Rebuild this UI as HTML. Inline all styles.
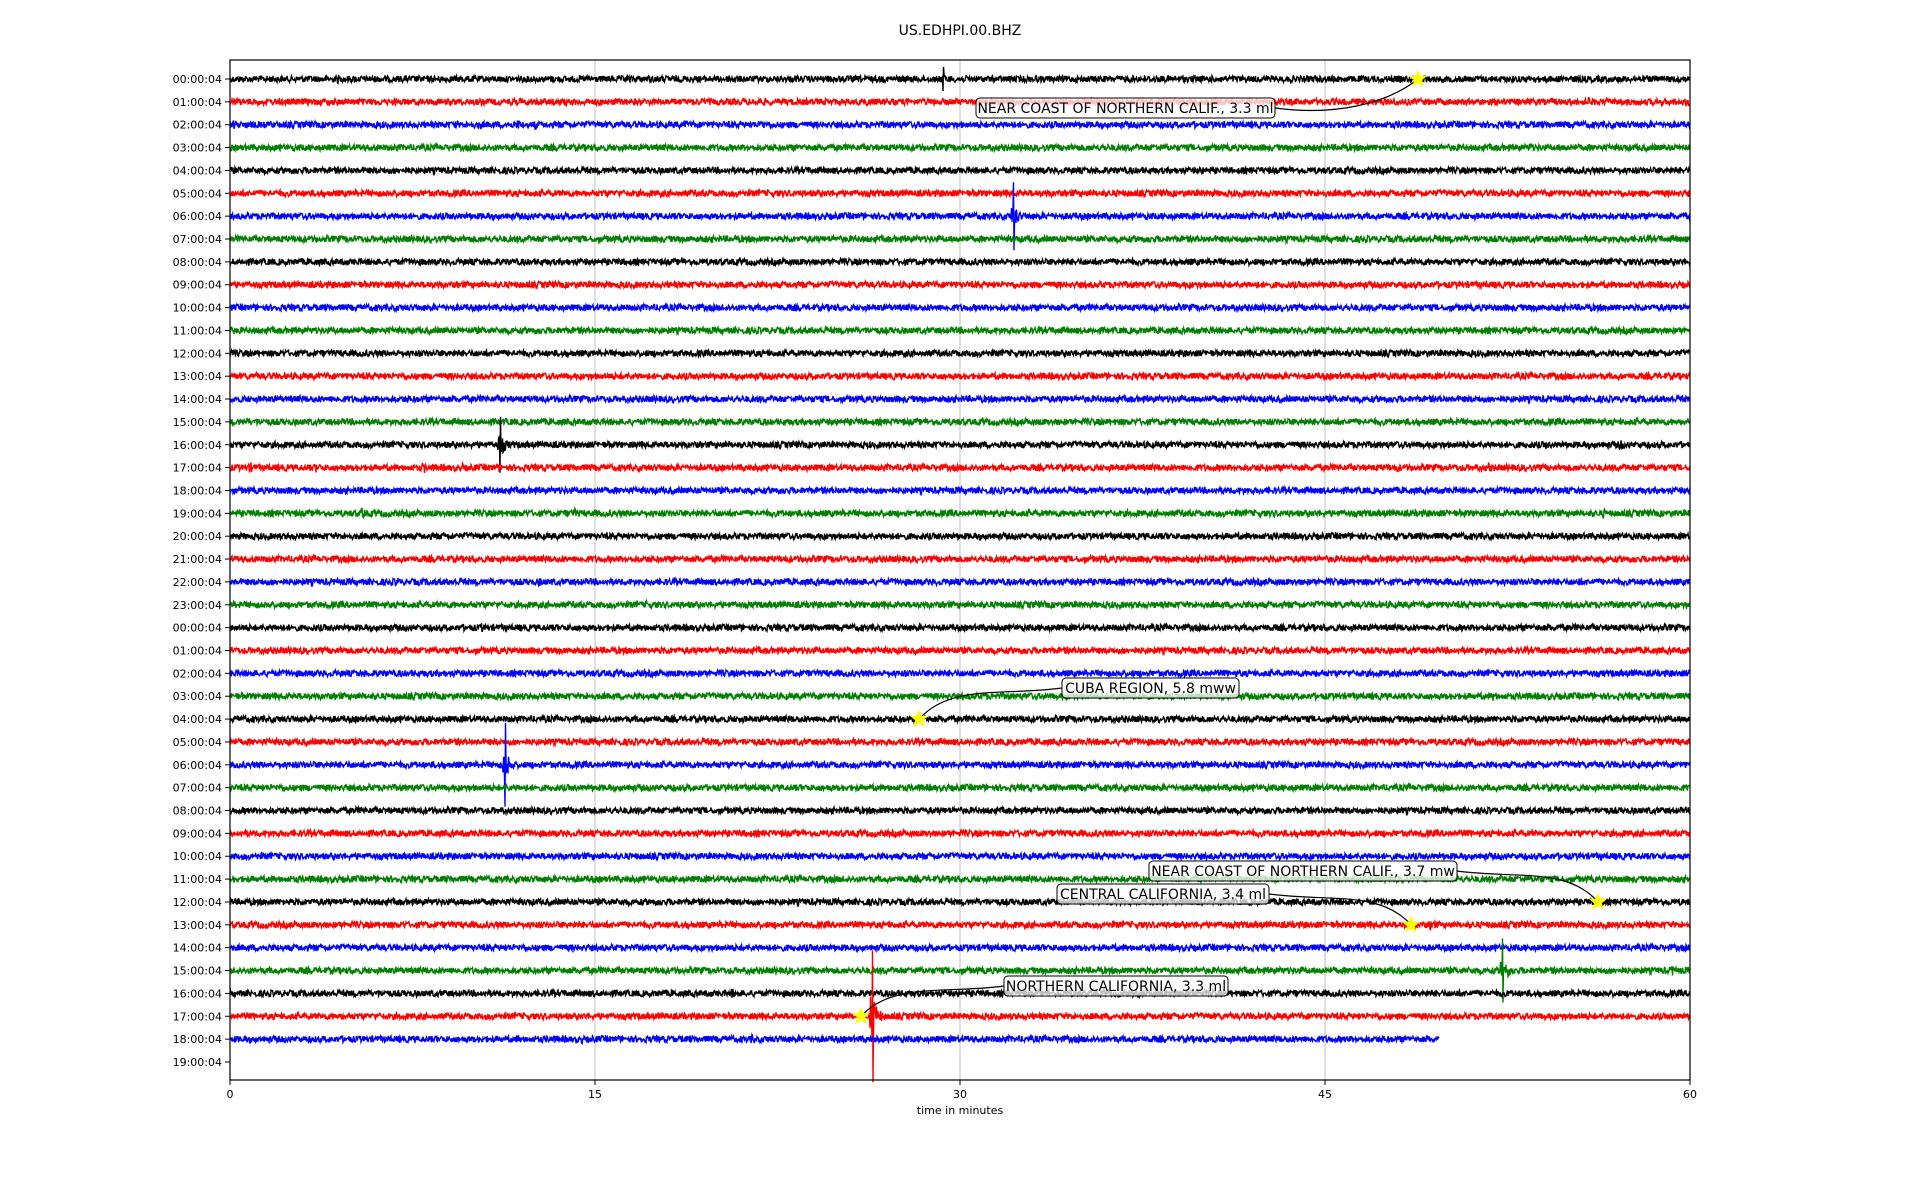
<!DOCTYPE html>
<html><head><meta charset="utf-8"><style>
body{margin:0;background:#fff}
svg{display:block;font-family:"DejaVu Sans","Liberation Sans",sans-serif}
</style></head><body>
<svg id="s" width="1920" height="1200" xmlns="http://www.w3.org/2000/svg">
<rect width="1920" height="1200" fill="#fff"/>
<g id="grid"></g>
<g id="tr"></g>
<g id="ax"></g>
<g id="ann"></g>
</svg>
<script>
const NS="http://www.w3.org/2000/svg";
const L=230,R=1690,T=60,B=1080,Y0=79,DY=22.86;
const X=m=>L+(R-L)*m/60;
let seed=12345;function rnd(){seed=(seed*1103515245+12345)&0x7fffffff;return seed/0x7fffffff;}
function el(t,a,p,txt){const e=document.createElementNS(NS,t);for(const k in a)e.setAttribute(k,a[k]);if(txt!=null)e.textContent=txt;(p||document.getElementById('s')).appendChild(e);return e;}
const g=document.getElementById('grid'),tr=document.getElementById('tr'),ax=document.getElementById('ax'),an=document.getElementById('ann');
[15,30,45].forEach(m=>el('line',{x1:X(m),x2:X(m),y1:T,y2:B,stroke:'#b0b0b0','stroke-width':0.8},g));
const cols=['#000','#f00','#00f','#008000'];
const ev={0:[[29.3,12,0.6],[4.5,5,0.2],[20.7,5,0.2]],1:[[59.9,7,0.3],[55.9,6,0.2],[21.8,5,0.3],[26.2,5,0.1]],
2:[[0.2,7,0.3],[9.3,6,0.4],[10.3,7,0.4],[11.9,7,0.3],[12.6,7,0.2],[18.8,5,0.3],[21.9,8,0.4]],
3:[[23.6,5,0.2],[53.5,7,0.2]],6:[[32.2,34,0.6]],16:[[11.1,28,0.8],[12.8,5,0.3],[57.2,7,0.3],[54.1,5,0.2],[50.7,6,0.1]],
17:[[0.8,7,1.5],[3.6,7,0.8],[8.0,8,0.2],[9.6,5,0.4],[48,6,0.3],[51.8,5,0.1]],19:[[5.5,9,0.5],[14.2,6,0.3],[56.5,6,0.3],[50.8,5,0.1]],
22:[[6.9,6,0.6],[12.8,5,0.2],[55.5,5,0.3]],23:[[17.2,5,0.3]],24:[[10.4,6,0.2]],27:[[52,6,0.5]],28:[[4,6,0.6]],
30:[[11.3,42,0.7]],37:[[49.4,8,0.8]],39:[[52.3,32,0.8],[59.3,8,0.4]],40:[[20.7,5,0.3]],41:[[26.4,66,0.6]],42:[[11.9,5,0.3],[14.5,5,0.2],[21.5,5,0.6]]};
for(let r=0;r<43;r++){
  const y=Y0+r*DY;const end=r==42?49.7:60;const es=ev[r]||[];
  let d='';const xe=X(end);let k=0;
  for(let x=L;x<=xe;x+=0.5){
    k++;
    const m=(x-L)/(R-L)*60;let a=3.2;let forced=0;
    for(const e of es){const dm=m-e[0];if(dm>-0.1&&dm<e[2]){
      if(e[1]>10&&dm>-0.01&&dm<0.03){forced=e[1]*(k%2?1:-1);}
      const coda=Math.min(e[1]*0.3+3,e[1])*Math.exp(-Math.max(0,dm)/(e[2]*0.4));
      a=Math.max(a,coda);}}
    const v=forced||(rnd()*2-1)*a;d+=(d?'L':'M')+x.toFixed(1)+' '+(y+v).toFixed(1);
  }
  el('path',{d:d,fill:'none',stroke:cols[r%4],'stroke-width':1.4},tr);
}
el('rect',{x:L,y:T,width:R-L,height:B-T,fill:'none',stroke:'#000','stroke-width':1.2},ax);
for(let r=0;r<44;r++){const y=Y0+r*DY;const h=(r%24).toString().padStart(2,'0');
  el('line',{x1:L-5,x2:L,y1:y,y2:y,stroke:'#000'},ax);
  el('text',{x:L-8,y:y+4,'text-anchor':'end','font-size':11,fill:'#000'},ax,h+':00:04');}
[0,15,30,45,60].forEach(m=>{el('line',{x1:X(m),x2:X(m),y1:B,y2:B+5,stroke:'#000'},ax);
  el('text',{x:X(m),y:B+18,'text-anchor':'middle','font-size':11},ax,m);});
el('text',{x:960,y:1114,'text-anchor':'middle','font-size':11},ax,'time in minutes');
el('text',{x:960,y:35,'text-anchor':'middle','font-size':14},ax,'US.EDHPI.00.BHZ');
function star(cx,cy){let p='';for(let i=0;i<10;i++){const rr=i%2?4:9.5;const a=-Math.PI/2+i*Math.PI/5;p+=(cx+rr*Math.cos(a)).toFixed(1)+','+(cy+rr*Math.sin(a)).toFixed(1)+' ';}
  el('polygon',{points:p,fill:'#ff0'},an);}
const A=[['NEAR COAST OF NORTHERN CALIF., 3.3 ml',976,1275,108,1418,0,1],
['CUBA REGION, 5.8 mww',1062,1239,688,919,28,0],
['NEAR COAST OF NORTHERN CALIF., 3.7 mw',1149,1457,871,1598,36,1],
['CENTRAL CALIFORNIA, 3.4 ml',1057,1269,894,1411,37,1],
['NORTHERN CALIFORNIA, 3.3 ml',1004,1228,986,861,41,0]];
A.forEach(a=>{const sy=Y0+a[5]*DY;
  const sx=a[6]?a[2]:a[1];const c1x=a[6]?a[2]+60:a[1]-60;
  el('path',{d:`M${sx} ${a[3]} C ${c1x} ${a[3]+8}, ${(a[4]+sx)/2+ (a[6]?40:-40)} ${a[3]-4}, ${a[4]} ${sy}`,fill:'none',stroke:'#000','stroke-width':1.2},an);
  el('rect',{x:a[1],y:a[3]-10,width:a[2]-a[1],height:20,rx:4,fill:'#fff','fill-opacity':0.75,stroke:'#000','stroke-width':1},an);
  el('text',{x:(a[1]+a[2])/2,y:a[3]+5,'text-anchor':'middle','font-size':14},an,a[0]);
  star(a[4],sy);});
</script>
</body></html>
